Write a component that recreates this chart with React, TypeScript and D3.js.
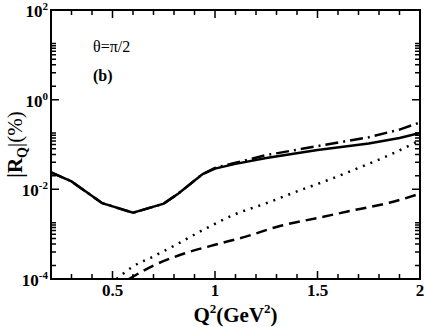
import React from 'react';
import * as d3 from 'd3';

// |R_Q| (%) versus Q^2 (GeV^2), theta = pi/2, panel (b)
const solidQ2 = [0.2, 0.3, 0.45, 0.6, 0.75, 0.82, 0.94, 1.0, 1.1, 1.25, 1.5, 1.75, 1.9, 2.0];
const solidR = [0.024, 0.015, 0.0049, 0.003, 0.0048, 0.008, 0.022, 0.029, 0.037, 0.05, 0.075, 0.105, 0.14, 0.18];

const dashDotQ2 = [0.2, 0.3, 0.45, 0.6, 0.75, 0.82, 0.94, 1.0, 1.1, 1.25, 1.5, 1.75, 1.9, 2.0];
const dashDotR = [0.024, 0.015, 0.0049, 0.003, 0.0048, 0.008, 0.022, 0.03, 0.039, 0.058, 0.092, 0.145, 0.215, 0.31];

const dottedQ2 = [0.52, 0.6, 0.7, 0.8, 0.95, 1.1, 1.25, 1.4, 1.55, 1.7, 1.85, 2.0];
const dottedR = [0.0001, 0.00019, 0.00032, 0.00055, 0.0013, 0.0028, 0.0049, 0.009, 0.016, 0.03, 0.058, 0.125];

const dashedQ2 = [0.58, 0.7, 0.85, 1.0, 1.15, 1.3, 1.5, 1.7, 1.85, 2.0];
const dashedR = [0.0001, 0.0002, 0.00037, 0.00058, 0.00088, 0.00145, 0.0023, 0.0036, 0.005, 0.008];

const xMajorTicks = [0.5, 1, 1.5, 2];
const xMinorTicks = [0.3, 0.4, 0.6, 0.7, 0.8, 0.9, 1.1, 1.2, 1.3, 1.4, 1.6, 1.7, 1.8, 1.9];
const yMajorExp = [-4, -2, 0, 2];
const yMinorMult = [2, 4, 6, 8, 10, 12, 14, 16, 18];

const W = 425;
const H = 327;
const m = { left: 51, right: 5, top: 10, bottom: 48 };
const font = '"Liberation Serif", "Times New Roman", serif';

const zip = (xs: number[], ys: number[]) => xs.map((x, i) => [x, ys[i]] as [number, number]);

const App = () => {
  const x = d3.scaleLinear().domain([0.2, 2]).range([m.left, W - m.right]);
  const y = d3.scaleLog().domain([1e-4, 1e2]).range([H - m.bottom, m.top]);
  const x0 = m.left, x1 = W - m.right, y0 = H - m.bottom, y1 = m.top;

  const line = d3.line<[number, number]>().x((d) => x(d[0])).y((d) => y(d[1]));
  const smooth = d3.line<[number, number]>().x((d) => x(d[0])).y((d) => y(d[1])).curve(d3.curveMonotoneX);

  const yMinor: number[] = [];
  yMajorExp.slice(0, -1).forEach((e) => yMinorMult.forEach((k) => yMinor.push(k * Math.pow(10, e))));

  const tick = (key: string, d: string) => <path key={key} d={d} stroke="#000" strokeWidth={1.5} />;

  return (
    <svg width={W} height={H} style={{ display: 'block', position: 'absolute', left: 0, top: 0 }}>
      <rect width={W} height={H} fill="#fff" />
      <defs>
        <clipPath id="plot">
          <rect x={x0} y={y1} width={x1 - x0} height={y0 - y1} />
        </clipPath>
      </defs>
      <g clipPath="url(#plot)" fill="none" stroke="#000">
        <path d={line(zip(dashDotQ2, dashDotR)) || ''} strokeWidth={2.5} strokeDasharray="13 5 2 5" />
        <path d={line(zip(solidQ2, solidR)) || ''} strokeWidth={2.5} />
        <path d={smooth(zip(dottedQ2, dottedR)) || ''} strokeWidth={2.5} strokeDasharray="2 6" />
        <path d={smooth(zip(dashedQ2, dashedR)) || ''} strokeWidth={2.5} strokeDasharray="11 6" />
      </g>

      {xMajorTicks.map((v) => tick('xb' + v, `M${x(v)},${y0}v-8M${x(v)},${y1}v8`))}
      {xMinorTicks.map((v) => tick('xm' + v, `M${x(v)},${y0}v-5M${x(v)},${y1}v5`))}
      {yMajorExp.map((e) => tick('ym' + e, `M${x0},${y(Math.pow(10, e))}h8M${x1},${y(Math.pow(10, e))}h-8`))}
      {yMinor.map((v, i) => tick('yn' + i, `M${x0},${y(v)}h5M${x1},${y(v)}h-5`))}
      <rect x={x0} y={y1} width={x1 - x0} height={y0 - y1} fill="none" stroke="#000" strokeWidth={2} />

      <g fontFamily={font} fontWeight="bold" fontSize={17}>
        {xMajorTicks.map((v) => (
          <text key={v} x={x(v)} y={y0 + 17} textAnchor="middle">{v}</text>
        ))}
        {yMajorExp.map((e) => (
          <text key={e} x={x0 - 3} y={y(Math.pow(10, e)) + 7} textAnchor="end">
            10<tspan fontSize={11} dy={-7}>{e}</tspan>
          </text>
        ))}
      </g>

      <text x={(x0 + x1) / 2} y={H - 5} textAnchor="middle" fontFamily={font} fontWeight="bold" fontSize={21}>
        Q<tspan fontSize={13} dy={-9}>2</tspan><tspan dy={9}>(GeV</tspan><tspan fontSize={13} dy={-9}>2</tspan><tspan dy={9}>)</tspan>
      </text>

      <text transform={`translate(22,${(y0 + y1) / 2}) rotate(-90)`} textAnchor="middle" fontFamily={font} fontSize={21}>
        <tspan fontWeight="bold">|R</tspan><tspan fontWeight="bold" fontSize={14} dy={5}>Q</tspan><tspan dy={-5}>|(%)</tspan>
      </text>

      <text x={93} y={52} fontFamily={font} fontSize={16}>θ=π/2</text>
      <text x={93} y={81} fontFamily={font} fontSize={16} fontWeight="bold">(b)</text>
    </svg>
  );
};

export default App;
